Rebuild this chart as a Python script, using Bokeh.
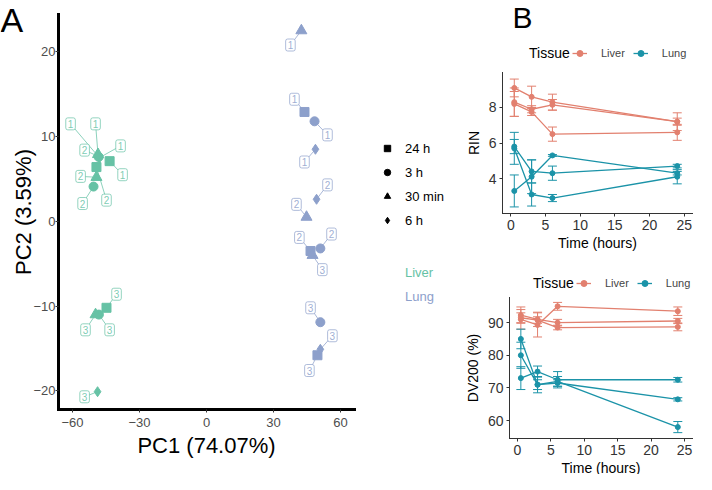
from bokeh.plotting import figure
from bokeh.models import ColumnDataSource, Legend, LegendItem, Label, Whisker, TeeHead
from bokeh.layouts import row, column
from bokeh.embed import file_html
from bokeh.resources import INLINE

FONT = "Liberation Sans"
GREEN = "#66C2A5"
PURPLE = "#8DA0CB"
LIVER_C = "#E2806F"
LUNG_C = "#1B93A8"

# ---------------- Panel A data (PCA) ----------------
pca_tissue = ["Liver"] * 12 + ["Lung"] * 12
pca_time = ["24 h", "3 h", "30 min", "6 h"] * 6
pca_rep = (["1"] * 4 + ["2"] * 4 + ["3"] * 4) * 2
pc1 = [-43.4, -48.3, -48.6, -48.0,
       -49.3, -50.6, -49.3, -48.8,
       -44.8, -48.2, -49.7, -48.8,
       43.9, 48.4, 42.5, 48.8,
       46.6, 51.0, 44.8, 49.3,
       49.7, 51.0, 47.5, 51.0]
pc2 = [7.1, 7.6, 7.9, 7.5,
       6.4, 4.1, 5.2, 7.7,
       -10.2, -11.0, -11.0, -20.1,
       12.9, 11.8, 22.5, 8.5,
       -3.5, -3.2, 0.5, 2.6,
       -15.8, -11.9, -4.0, -15.1]
label_x = [-37.6, -60.9, -49.7, -38.5,
           -44.8, -55.5, -56.4, -54.6,
           -40.3, -43.4, -54.2, -54.6,
           39.4, 54.2, 37.6, 43.9,
           41.6, 56.0, 40.3, 54.2,
           46.1, 46.6, 51.9, 56.4]
label_y = [5.5, 11.5, 11.5, 8.9,
           2.5, 2.1, 5.3, 8.4,
           -8.6, -12.8, -12.8, -20.7,
           14.4, 10.2, 20.8, 7.0,
           -1.9, -1.5, 2.0, 4.3,
           -17.6, -10.2, -5.7, -13.5]
time_levels = ["24 h", "3 h", "30 min", "6 h"]
tissue_levels = ["Liver", "Lung"]
pc1_label = "PC1 (74.07%)"
pc2_label = "PC2 (3.59%)"
pca_xlim = (-66.3, 66.3)
pca_ylim = (-22.2, 24.4)
pca_xticks = [-60, -30, 0, 30, 60]
pca_yticks = [-20, -10, 0, 10, 20]

# ---------------- Panel B data ----------------
time_b = [0.5, 3, 6, 24]
time_ticks = [0, 5, 10, 15, 20, 25]
time_lim = (-1.2, 26.2)
rin_liver = [[9.1, 8.6, 8.3, 7.2], [8.3, 7.9, 8.15, 7.2], [8.2, 7.75, 6.5, 6.6]]
rin_liver_err = [[0.5, 0.6, 0.45, 0.5], [0.8, 0.2, 0.3, 0.2], [0.7, 0.2, 0.4, 0.45]]
rin_lung = [[5.8, 4.4, 4.3, 4.7], [5.7, 3.1, 2.9, 4.1], [3.3, 4.1, 5.3, 4.3]]
rin_lung_err = [[0.4, 0.65, 0.4, 0.1], [0.9, 0.65, 0.2, 0.4], [0.9, 0.95, 0.05, 0.1]]
rin_ticks = [4, 6, 8]
rin_lim = (2.03, 9.97)
dv_liver = [[91.0, 89.3, 95.0, 93.5], [92.3, 91.0, 90.0, 90.5], [91.5, 90.8, 88.5, 88.7]]
dv_liver_err = [[3.0, 3.7, 1.2, 1.3], [2.5, 2.2, 1.0, 0.8], [1.5, 1.0, 0.7, 1.2]]
dv_lung = [[73.0, 75.0, 72.5, 72.5], [85.0, 71.0, 72.0, 58.0], [80.0, 71.0, 71.5, 66.5]]
dv_lung_err = [[3.5, 1.7, 2.5, 0.7], [3.0, 2.5, 1.5, 1.7], [4.0, 1.5, 1.0, 0.5]]
dv_ticks = [60, 70, 80, 90]
dv_lim = (54.5, 97.7)

marker_of = {"24 h": "square", "3 h": "circle", "30 min": "triangle", "6 h": "diamond"}
size_of = {"24 h": 9, "3 h": 9, "30 min": 11, "6 h": 10}


def full_frame_figure(width, height, box, xlim, ylim):
    """Figure whose frame fills the canvas; axes drawn at fixed data locations
    so that the axis box sits at `box` = (left, top, right, bottom) canvas pixels."""
    left, top, right, bottom = box
    sx = (right - left) / (xlim[1] - xlim[0])
    sy = (bottom - top) / (ylim[1] - ylim[0])
    xr = (xlim[0] - left / sx, xlim[1] + (width - right) / sx)
    yr = (ylim[0] - (height - bottom) / sy, ylim[1] + top / sy)
    p = figure(width=width, height=height, x_range=xr, y_range=yr,
               output_backend="svg", toolbar_location=None,
               min_border_left=0, min_border_right=0, min_border_top=0, min_border_bottom=0)
    p.xaxis.fixed_location = ylim[0]
    p.yaxis.fixed_location = xlim[0]
    p.xaxis.bounds = xlim
    p.yaxis.bounds = ylim
    p.xgrid.visible = False
    p.ygrid.visible = False
    p.outline_line_color = None
    p.background_fill_color = "white"
    p.border_fill_color = "white"
    return p


def style_axes(p, tick_size, label_size, line_w, line_c, tick_c, label_c):
    for ax in (p.xaxis[0], p.yaxis[0]):
        ax.axis_line_width = line_w
        ax.axis_line_color = line_c
        ax.axis_line_cap = "square"
        ax.major_tick_line_color = tick_c
        ax.major_tick_out = 3
        ax.major_tick_in = 0
        ax.minor_tick_line_color = None
        ax.major_label_text_font = FONT
        ax.major_label_text_font_size = tick_size
        ax.major_label_text_color = label_c
        ax.axis_label_text_font = FONT
        ax.axis_label_text_font_size = label_size
        ax.axis_label_text_font_style = "normal"
        ax.axis_label_text_color = "black"
        ax.major_label_standoff = 3


def text_legend(p, labels, renderers, loc, font_size, color="black", **kw):
    lg = Legend(items=[LegendItem(label=l, renderers=[r]) for l, r in zip(labels, renderers)],
                location=loc, border_line_color=None, background_fill_alpha=0,
                label_text_font=FONT, label_text_font_size=font_size,
                label_text_color=color, padding=0, margin=0, **kw)
    p.add_layout(lg)
    return lg


# ---------------- Panel A ----------------
WA, HA = 457, 474
pA = full_frame_figure(WA, HA, (58, 14, 354, 409), pca_xlim, pca_ylim)
style_axes(pA, "13px", "22px", 3, "black", "#333333", "#4D4D4D")
pA.xaxis.ticker = pca_xticks
pA.yaxis.ticker = pca_yticks
pA.xaxis.axis_label = pc1_label
pA.yaxis.axis_label = pc2_label
pA.yaxis.major_label_standoff = 0
pA.xaxis.major_label_standoff = 5
pA.xaxis.axis_label_standoff = 3
pA.yaxis.axis_label_standoff = -6

tissue_color = {"Liver": GREEN, "Lung": PURPLE}
for tissue in tissue_levels:
    col = tissue_color[tissue]
    idx = [i for i, t in enumerate(pca_tissue) if t == tissue]
    src = ColumnDataSource(dict(
        x=[pc1[i] for i in idx], y=[pc2[i] for i in idx],
        lx=[label_x[i] for i in idx], ly=[label_y[i] for i in idx],
        rep=[pca_rep[i] for i in idx],
        marker=[marker_of[pca_time[i]] for i in idx],
        size=[size_of[pca_time[i]] for i in idx],
    ))
    pA.segment(x0="x", y0="y", x1="lx", y1="ly", source=src, line_color=col,
               line_alpha=0.75, line_width=1)
    pA.scatter(x="x", y="y", marker="marker", size="size", source=src,
               fill_color=col, line_color=col)
    pA.text(x="lx", y="ly", text="rep", source=src, text_align="center",
            text_baseline="middle", text_font_size="10px", text_font={"value": FONT},
            text_color=col, text_alpha=0.85,
            background_fill_color="white", border_line_color=col, border_line_alpha=0.7,
            padding=2, border_radius=2)

# shape legend (black keys)
shape_r = [pA.scatter(x=[float("nan")], y=[float("nan")], marker=marker_of[t],
                      size=size_of[t], fill_color="black", line_color="black")
           for t in time_levels]
text_legend(pA, time_levels, shape_r, (379, 244), "13px",
            glyph_width=16, glyph_height=20, spacing=4, label_standoff=10)

# colour legend: text only, coloured by tissue
for tissue, yloc in zip(tissue_levels, (192, 168)):
    r = pA.scatter(x=[float("nan")], y=[float("nan")], marker="circle", size=1,
                   fill_alpha=0, line_alpha=0)
    text_legend(pA, [tissue], [r], (379, yloc), "13px", color=tissue_color[tissue],
                glyph_width=16, glyph_height=20, label_standoff=10)

pA.add_layout(Label(x=0, y=HA, x_units="screen", y_units="screen", text="A",
                    text_font=FONT, text_font_size="34px", text_align="left",
                    text_baseline="top", text_color="black"))


# ---------------- Panel B ----------------
def panel_b(height, box, ylim, yticks, ylab, liver_vals, liver_err, lung_vals, lung_err,
            legend_y, legend_dx=0, tag=False):
    W = 239
    p = full_frame_figure(W, height, box, time_lim, ylim)
    style_axes(p, "14px", "14px", 1, "#333333", "#333333", "#333333")
    p.xaxis.ticker = time_ticks
    p.yaxis.ticker = yticks
    p.xaxis.axis_label = "Time (hours)"
    p.yaxis.axis_label = ylab
    p.xaxis.axis_label_standoff = 2
    p.yaxis.axis_label_standoff = 4
    items = []
    for name, vals, errs, col in (("Liver", liver_vals, liver_err, LIVER_C),
                                  ("Lung", lung_vals, lung_err, LUNG_C)):
        ml = p.multi_line(xs=[time_b] * len(vals), ys=vals, line_color=col, line_width=1.3)
        t_all, y_all, lo_all, up_all = [], [], [], []
        for v, e in zip(vals, errs):
            for t, yv, ev in zip(time_b, v, e):
                t_all.append(t)
                y_all.append(yv)
                lo_all.append(yv - ev)
                up_all.append(yv + ev)
        src = ColumnDataSource(dict(t=t_all, y=y_all, lo=lo_all, up=up_all))
        p.add_layout(Whisker(source=src, base="t", lower="lo", upper="up", line_color=col,
                             line_width=1,
                             upper_head=TeeHead(size=9, line_color=col, line_width=1),
                             lower_head=TeeHead(size=9, line_color=col, line_width=1)))
        sc = p.scatter("t", "y", source=src, size=5, fill_color=col, line_color=col)
        items.append(LegendItem(label=name, renderers=[ml, sc]))
    # legend title "Tissue"
    dummy = p.scatter(x=[float("nan")], y=[float("nan")], size=1, fill_alpha=0, line_alpha=0)
    text_legend(p, ["Tissue"], [dummy], (72 + legend_dx, legend_y), "14px",
                glyph_width=0, glyph_height=20, label_standoff=0)
    p.add_layout(Legend(items=items, orientation="horizontal", location=(115 + legend_dx, legend_y),
                        border_line_color=None, background_fill_alpha=0,
                        label_text_font=FONT, label_text_font_size="11px",
                        glyph_width=15, glyph_height=20, label_standoff=14, spacing=8,
                        padding=0, margin=0))
    if tag:
        p.add_layout(Label(x=55, y=height, x_units="screen", y_units="screen", text="B",
                           text_font=FONT, text_font_size="30px", text_align="left",
                           text_baseline="top", text_color="black"))
    return p


pB1 = panel_b(252, (45, 72, 235, 213), rin_lim, rin_ticks, "RIN",
              rin_liver, rin_liver_err, rin_lung, rin_lung_err, legend_y=189, tag=True)
pB2 = panel_b(222, (52, 45, 235, 186), dv_lim, dv_ticks, "DV200 (%)",
              dv_liver, dv_liver_err, dv_lung, dv_lung_err, legend_y=181, legend_dx=4)

layout = row(pA, column(pB1, pB2))
open("out.html", "w").write(file_html(layout, INLINE))
